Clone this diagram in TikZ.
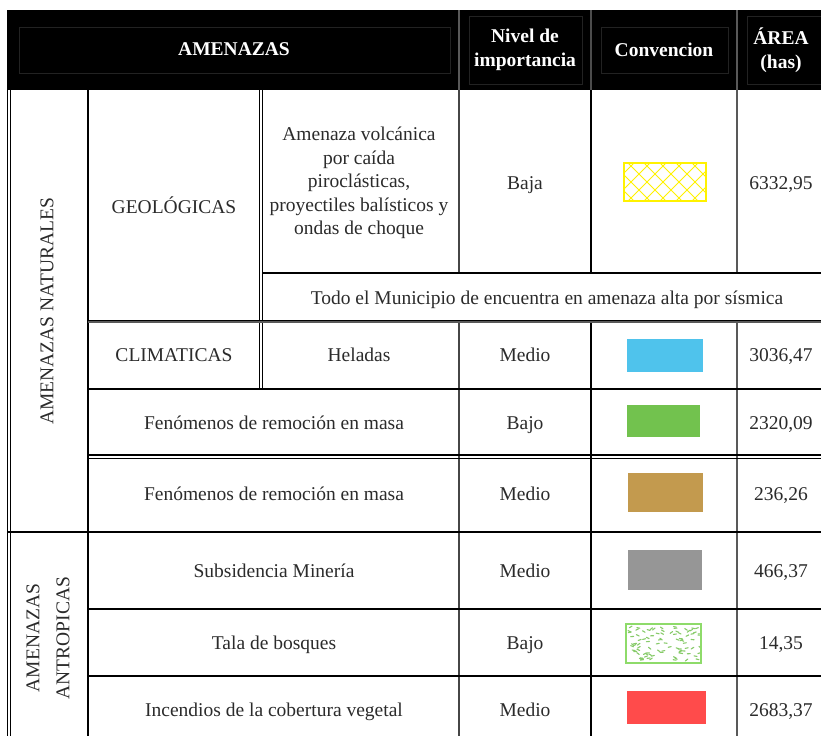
\documentclass[tikz,border=0pt]{standalone}
\usepackage{fontspec}
\setmainfont{Liberation Serif}
\definecolor{txt}{HTML}{2B2B2B}
\definecolor{swblue}{HTML}{4FC3EC}
\definecolor{swgreen}{HTML}{72C24E}
\definecolor{swbrown}{HTML}{C39A4E}
\definecolor{swgrey}{HTML}{969696}
\definecolor{swred}{HTML}{FF4B4B}
\definecolor{swlgreen}{HTML}{8EDB6A}
\definecolor{swyellow}{HTML}{FFF200}
\definecolor{hdrline}{HTML}{222222}
\begin{document}
\begin{tikzpicture}[x=1pt,y=-1pt,
  cell/.style={font=\fontsize{19.5}{23.5}\selectfont, text=txt, align=center, inner sep=0pt},
  sl/.style={cell, text height=13.4pt, text depth=0pt},
  hdr/.style={font=\bfseries\fontsize{19.5}{24}\selectfont, text=white, align=center, inner sep=0pt},
  rule/.style={line width=1.3pt, black},
  grule/.style={line width=2pt, gray!70!black},
  thin/.style={line width=0.7pt, hdrline}]
\useasboundingbox (0,0) rectangle (821,736);
\fill[white] (0,0) rectangle (821,736);
% header
\fill[black] (8,10) rectangle (821,90);
\draw[thin] (19,27) -- (450,27) -- (450,73) -- (19,73) -- cycle;
\draw[thin] (469,16) rectangle (582,84);
\draw[thin] (601,27) rectangle (728,73);
\draw[thin] (747,16) -- (821,16);
\draw[thin] (747,84) -- (821,84);
\draw[thin] (747,16) -- (747,84);
\draw[grule] (459,10) -- (459,90);
\draw[line width=1.2pt, gray!60!black] (591,10) -- (591,90);
\draw[grule] (737,10) -- (737,90);
\node[hdr] (hA) at (234,49) {AMENAZAS};
\node[hdr] (hN) at (525,50) {Nivel de\\importancia};
\node[hdr] (hC) at (664,50) {Convencion};
\node[hdr] (hR) at (781,50) {ÁREA\\(has)};
% outer left double line
\draw[line width=0.9pt] (7.5,10) -- (7.5,736);
\draw[line width=0.9pt] (10.5,90) -- (10.5,736);
% verticals
\draw[rule] (88,90) -- (88,736);
\draw[line width=0.8pt] (259,90) -- (259,389);
\draw[line width=0.8pt] (262,90) -- (262,389);
\draw[line width=1.3pt, gray!55!black] (459,90) -- (459,273);
\draw[line width=1.3pt, gray!55!black] (459,322) -- (459,736);
\draw[rule] (591,90) -- (591,273);
\draw[rule] (591,322) -- (591,736);
\draw[grule] (737,90) -- (737,273);
\draw[grule] (737,322) -- (737,736);
% horizontals
\draw[rule] (262,273) -- (821,273);
\draw[grule] (88,322) -- (821,322);
\draw[line width=0.8pt] (88,320.5) -- (821,320.5);
\draw[rule] (88,389) -- (821,389);
\draw[rule] (88,455) -- (821,455);
\draw[line width=0.6pt] (88,458) -- (821,458);
\draw[rule] (8,532) -- (821,532);
\draw[rule] (88,609) -- (821,609);
\draw[rule] (88,676) -- (821,676);
% left group labels
\node[cell, rotate=90] (nat) at (47,311) {AMENAZAS NATURALES};
\node[cell, rotate=90, font=\fontsize{19.5}{30}\selectfont] (ant) at (48,638) {AMENAZAS\\ANTROPICAS};
% row 1
\node[sl] (geo) at (174,207) {GEOLÓGICAS};
\node[cell] (vol) at (359,183) {Amenaza volcánica\\por caída\\piroclásticas,\\proyectiles balísticos y\\ondas de choque};
\node[sl] (l1) at (525,183) {Baja};
\node[sl] (a1) at (781,183) {6332,95};
\begin{scope}
\clip (624,163) rectangle (706,201);
\foreach \k in {-60,-44,...,120} {
  \draw[swyellow, line width=1pt] (624+\k,163) -- ++(38,38);
  \draw[swyellow, line width=1pt] (624+\k,201) -- ++(38,-38);
}
\end{scope}
\draw[swyellow, line width=1.4pt] (624,163) rectangle (706,201);
\node[sl] (todo) at (547,298) {Todo el Municipio de encuentra en amenaza alta por sísmica};
% row climaticas
\node[sl] (cli) at (174,355) {CLIMATICAS};
\node[sl] (hel) at (359,355) {Heladas};
\node[sl] (l2) at (525,355) {Medio};
\fill[swblue] (627,339) rectangle (703,372);
\node[sl] (a2) at (781,355) {3036,47};
% row fen bajo
\node[sl] (f1) at (274,423) {Fenómenos de remoción en masa};
\node[sl] (l3) at (525,423) {Bajo};
\fill[swgreen] (627,405) rectangle (700,437);
\node[sl] (a3) at (781,423) {2320,09};
% row fen medio
\node[sl] (f2) at (274,494) {Fenómenos de remoción en masa};
\node[sl] (l4) at (525,494) {Medio};
\fill[swbrown] (628,473) rectangle (703,512);
\node[sl] (a4) at (781,494) {236,26};
% subsidencia
\node[sl] (s1) at (274,571) {Subsidencia Minería};
\node[sl] (l5) at (525,571) {Medio};
\fill[swgrey] (628,550) rectangle (702,590);
\node[sl] (a5) at (781,571) {466,37};
% tala
\node[sl] (t1) at (274,643) {Tala de bosques};
\node[sl] (l6) at (525,643) {Bajo};
\begin{scope}
\clip (626,624) rectangle (701,663);
\pgfmathsetseed{7}
\foreach \i in {1,...,90} {
  \pgfmathsetmacro{\px}{628+71*rnd}
  \pgfmathsetmacro{\py}{626+35*rnd}
  \pgfmathsetmacro{\ang}{-40+80*rnd}
  \draw[swgreen!85!white, line width=1.1pt, line cap=round] (\px,\py) -- ++(\ang:3);
}
\end{scope}
\draw[swlgreen, line width=1.3pt] (626,624) rectangle (701,663);
\node[sl] (a6) at (781,643) {14,35};
% incendios
\node[sl] (i1) at (274,710) {Incendios de la cobertura vegetal};
\node[sl] (l7) at (525,710) {Medio};
\fill[swred] (627,691) rectangle (706,724);
\node[sl] (a7) at (781,710) {2683,37};
\end{tikzpicture}
\end{document}
